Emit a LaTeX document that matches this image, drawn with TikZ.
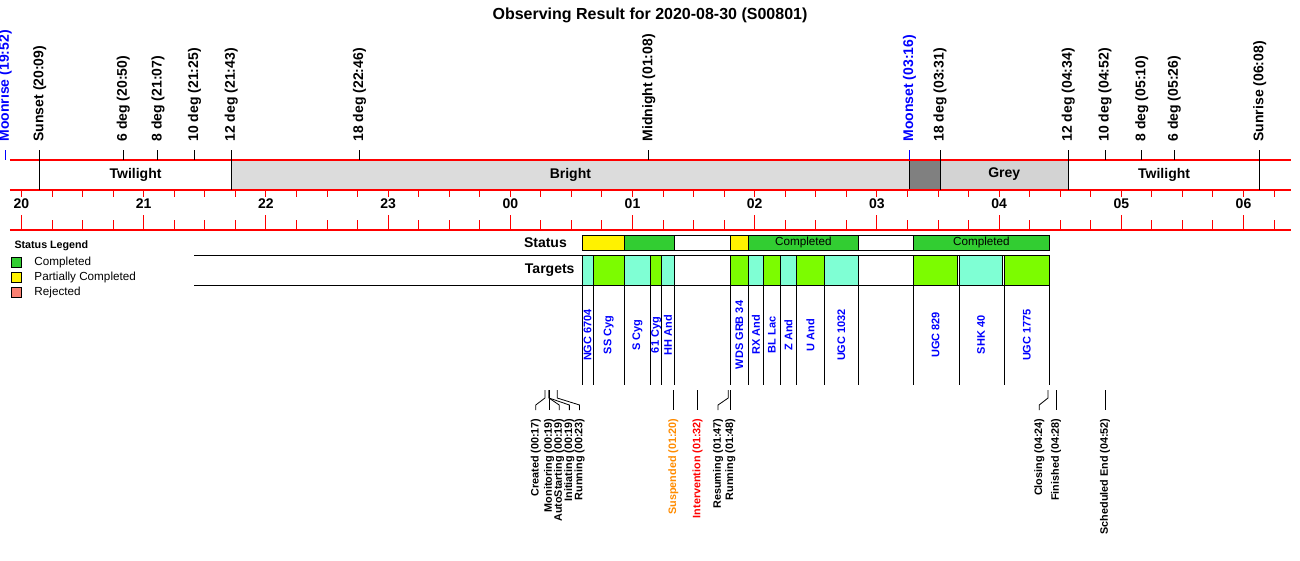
\documentclass[tikz,border=0pt]{standalone}
\usepackage{fontspec}
\setmainfont{Liberation Sans}
\usetikzlibrary{positioning}

\definecolor{donegreen}{HTML}{32CD32}
\definecolor{tgtgreen}{HTML}{7CFC00}
\definecolor{tgtaqua}{HTML}{7FFFD4}
\definecolor{rejsalmon}{HTML}{FA8072}
\definecolor{brightgrey}{HTML}{DCDCDC}
\definecolor{greygrey}{HTML}{D3D3D3}
\definecolor{darkgrey}{HTML}{808080}
\definecolor{suspend}{HTML}{FF8C00}

\begin{document}
\begin{tikzpicture}[x=1pt, y=-1pt, line width=1pt,
    redline/.style={red, line width=1.2pt},
    toplbl/.style={rotate=90, anchor=west, inner sep=0pt, font=\fontsize{14}{14}\selectfont\bfseries},
    bandlbl/.style={font=\fontsize{14}{14}\selectfont\bfseries},
    rowlbl/.style={anchor=east, inner sep=0pt, font=\fontsize{14}{14}\selectfont\bfseries},
    tgtlbl/.style={rotate=90, inner sep=0pt, text=blue, font=\fontsize{11}{11}\selectfont\bfseries},
    evlbl/.style={rotate=90, anchor=east, inner sep=0pt, font=\fontsize{10.8}{10.8}\selectfont\bfseries},
    small/.style={inner sep=0pt, font=\fontsize{11.7}{11.7}\selectfont},
    legendbox/.style={draw, line width=0.8pt, minimum size=10.5pt, inner sep=0pt}
]
\fill[white] (0,0) rectangle (1300,560);
\useasboundingbox (0,0) rectangle (1300,560);

\node[font=\fontsize{16}{16}\selectfont\bfseries] (title) at (650,15) {Observing Result for 2020-08-30 (S00801)};

% legend
\node[anchor=west, inner sep=0pt, font=\fontsize{10.7}{10.7}\selectfont\bfseries] (legend) at (14,246) {Status Legend};
\foreach \c/\t [count=\i] in {donegreen/Completed, yellow/Partially Completed, rejsalmon/Rejected} {
  \node[legendbox, fill=\c] (box\i) at (16.3,247.5+15*\i) {};
  \node[small, right=12pt of box\i] (key\i) {\t};
}

\node[rowlbl] (status) at (567.3,242.5) {Status};
\node[rowlbl] (targets) at (575,270) {Targets};

% time axis: minutes after 20:00
\begin{scope}[xshift=21.5pt, x=2.03667pt]
  % sky bands
  \fill[brightgrey] (103,160) rectangle (436,190);
  \fill[darkgrey] (436,160) rectangle (451,190);
  \fill[greygrey] (451,160) rectangle (514,190);
  \draw (436,160) -- (436,190);
  \draw[redline] (-5.65,160) -- (623.2,160) (-5.65,190) -- (623.2,190) (-5.65,230) -- (623.2,230);
  \foreach \m in {0,15,...,615}
    \draw[red] (\m,190) -- (\m,197) (\m,220) -- (\m,230);
  \foreach \h [count=\i from 0] in {20,21,22,23,00,01,02,03,04,05,06} {
    \draw[red] (\i*60,215) -- (\i*60,220);
    \node[bandlbl] (hr\i) at (\i*60,204) {\h};
  }
  \node[bandlbl] (tw1) at (56,174.5) {Twilight};
  \node[bandlbl] (bright) at (269.5,174.5) {Bright};
  \node[bandlbl] (grey) at (482.5,174.5) {Grey};
  \node[bandlbl] (tw2) at (561,174.5) {Twilight};

  % sun and moon events
  \foreach \m/\t [count=\i] in {9/Sunset (20:09), 103/12 deg (21:43), 451/18 deg (03:31), 514/12 deg (04:34), 608/Sunrise (06:08)} {
    \draw (\m,150) -- (\m,190);
    \node[toplbl] (sun\i) at (\m,142) {\t};
  }
  \foreach \m/\t [count=\i] in {50/6 deg (20:50), 67/8 deg (21:07), 85/10 deg (21:25), 166/18 deg (22:46), 308/Midnight (01:08), 532/10 deg (04:52), 550/8 deg (05:10), 566/6 deg (05:26)} {
    \draw (\m,150) -- (\m,160);
    \node[toplbl] (deg\i) at (\m,142) {\t};
  }
  \foreach \m/\t [count=\i] in {-8/Moonrise (19:52), 436/Moonset (03:16)} {
    \draw[blue] (\m,150) -- (\m,160);
    \node[toplbl, text=blue] (moon\i) at (\m,142) {\t};
  }

  % status row
  \foreach \a/\b/\c in {275.3/296/yellow, 296/320.5/donegreen, 320.5/348/white, 348/356.9/yellow, 356.9/410.9/donegreen, 410.9/437.9/white, 437.9/504.7/donegreen}
    \draw[fill=\c] (\a,235) rectangle (\b,250);
  \node[small] (done1) at (383.9,242.5) {Completed};
  \node[small] (done2) at (471.3,242.5) {Completed};

  % targets row
  \draw (84.7,255.5) -- (504.7,255.5) (84.7,285.5) -- (504.7,285.5);
  \foreach \a/\b/\c/\n [count=\i] in {275.3/280.7/tgtaqua/NGC 6704, 280.7/296/tgtgreen/SS Cyg, 296/308.9/tgtaqua/S Cyg, 308.9/314.3/tgtgreen/61 Cyg, 314.3/320.5/tgtaqua/HH And, 348/356.9/tgtgreen/WDS GRB 34, 356.9/364.2/tgtaqua/RX And, 364.2/372.6/tgtgreen/BL Lac, 372.6/380.6/tgtaqua/Z And, 380.6/394.2/tgtgreen/U And, 394.2/410.9/tgtaqua/UGC 1032, 437.9/459.7/tgtgreen/UGC 829, 460.5/481.8/tgtaqua/SHK 40, 482.6/504.7/tgtgreen/UGC 1775} {
    \draw[fill=\c] (\a,255.5) rectangle (\b,285.5);
    \draw (\a,285.5) -- (\a,385);
    \node[tgtlbl] (tgt\i) at ({(\a+\b)/2},335) {\n};
  }
  \foreach \e in {320.5,410.9,504.7}
    \draw (\e,285.5) -- (\e,385);

  % run log
  \foreach \m/\c/\t [count=\i] in {259/black/Monitoring (00:19), 320/suspend/Suspended (01:20), 332/red/Intervention (01:32), 348/black/Running (01:48), 508/black/Finished (04:28), 532/black/Scheduled End (04:52)} {
    \draw (\m,390) -- (\m,410);
    \node[evlbl, text=\c] (ev\i) at (\m,418) {\t};
  }
  \foreach \m/\l/\t [count=\i] in {257/252.5/Created (00:17), 259/264/AutoStarting (00:19), 259/269/Initiating (00:19), 263/274/Running (00:23), 347/342/Resuming (01:47), 504/499.7/Closing (04:24)} {
    \draw[line width=0.8pt] (\m,390) -- (\m,398) -- (\l,405) -- (\l,410);
    \node[evlbl] (log\i) at (\l,418) {\t};
  }
\end{scope}
\end{tikzpicture}
\end{document}
